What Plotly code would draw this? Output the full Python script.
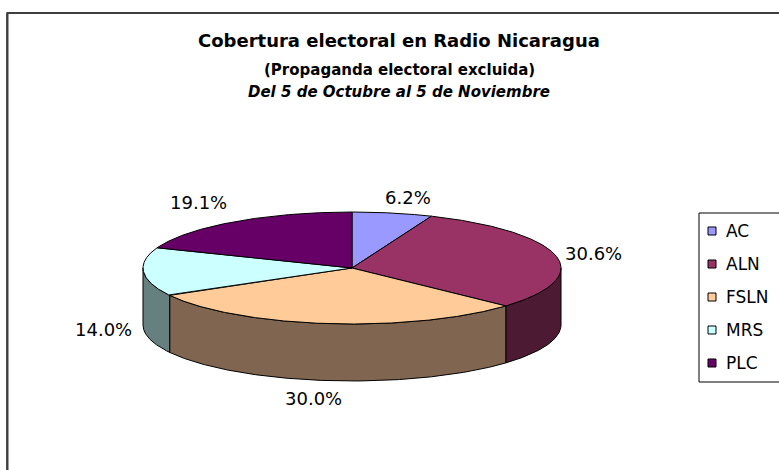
import numpy as np
import plotly.graph_objects as go

# ---------------- data ----------------
categories = ["AC", "ALN", "FSLN", "MRS", "PLC"]
shares = [6.2, 30.6, 30.0, 14.0, 19.1]
top_colors = ["#9999FF", "#993366", "#FFCC99", "#CCFFFF", "#660066"]
side_colors = ["#4D4D80", "#4D1A33", "#806650", "#668080", "#330033"]

title_lines = [
    "Cobertura electoral en Radio Nicaragua",
    "(Propaganda electoral excluida)",
    "Del 5 de Octubre al 5 de Noviembre",
]

# ---------------- layout constants (pixel space) ----------------
W, H = 779, 470
CX, CY = 352, 268        # centre of the top face
RX, RY = 209, 56         # ellipse radii of the top face
DEPTH = 57               # thickness of the 3-D pie
LABEL_K = 1.2
label_nudge = [(7, -5), (-3, 0), (-9, 7), (2, 0), (-12, -10)]
FONT = "DejaVu Sans, Liberation Sans, Arial, sans-serif"
TITLE_X = 399


def rim(theta_deg, drop=0.0):
    t = np.radians(theta_deg)
    return CX + RX * np.sin(t), CY - RY * np.cos(t) + drop


fig = go.Figure()

total = sum(shares)
bounds = [0.0]
for v in shares:
    bounds.append(bounds[-1] + v / total * 360.0)

# side faces (only the front half, 90..270 deg, is visible)
for i, v in enumerate(shares):
    a, b = max(bounds[i], 90.0), min(bounds[i + 1], 270.0)
    if b <= a:
        continue
    th = np.linspace(a, b, 200)
    xt, yt = rim(th)
    xb, yb = rim(th[::-1], DEPTH)
    xs = np.concatenate([xt, xb, xt[:1]])
    ys = np.concatenate([yt, yb, yt[:1]])
    fig.add_trace(go.Scatter(x=xs, y=ys, mode="lines", fill="toself",
                             fillcolor=side_colors[i],
                             line=dict(color="black", width=1),
                             hoverinfo="skip", showlegend=False))

# top faces
for i, v in enumerate(shares):
    th = np.linspace(bounds[i], bounds[i + 1], 300)
    xt, yt = rim(th)
    xs = np.concatenate([[CX], xt, [CX]])
    ys = np.concatenate([[CY], yt, [CY]])
    fig.add_trace(go.Scatter(x=xs, y=ys, mode="lines", fill="toself",
                             fillcolor=top_colors[i],
                             line=dict(color="black", width=1),
                             hoverinfo="skip", showlegend=False))

annotations = []
# data labels
for i, v in enumerate(shares):
    mid = (bounds[i] + bounds[i + 1]) / 2.0
    t = np.radians(mid)
    lx = CX + RX * LABEL_K * np.sin(t)
    ly = CY - RY * LABEL_K * np.cos(t) + (DEPTH if np.cos(t) < 0 else 0)
    lx += label_nudge[i][0]
    ly += label_nudge[i][1]
    annotations.append(dict(x=lx, y=ly, xref="x", yref="y", text=f"{v:.1f}%",
                            showarrow=False, xanchor="center", yanchor="middle",
                            font=dict(family=FONT, size=18, color="black")))

# titles
annotations.append(dict(x=TITLE_X, y=40, xref="x", yref="y", text=f"<b>{title_lines[0]}</b>",
                        showarrow=False, xanchor="center", yanchor="middle",
                        font=dict(family=FONT, size=18, color="black")))
annotations.append(dict(x=TITLE_X, y=70, xref="x", yref="y", text=f"<b>{title_lines[1]}</b>",
                        showarrow=False, xanchor="center", yanchor="middle",
                        font=dict(family=FONT, size=15, color="black")))
annotations.append(dict(x=TITLE_X, y=92, xref="x", yref="y", text=f"<b><i>{title_lines[2]}</i></b>",
                        showarrow=False, xanchor="center", yanchor="middle",
                        font=dict(family=FONT, size=15, color="black")))

shapes = []
# chart frame
shapes.append(dict(type="rect", xref="x", yref="y", x0=7, y0=13, x1=W + 20, y1=H + 20,
                   line=dict(color="black", width=1.3), fillcolor="rgba(0,0,0,0)", layer="below"))
shapes.append(dict(type="line", xref="x", yref="y", x0=7.5, y0=13, x1=7.5, y1=H + 20,
                   line=dict(color="#404040", width=2), layer="below"))
# legend
LEG_X, LEG_TOP, LEG_BOTTOM = 699, 213, 382
ROW0, ROW_STEP = 231, 33
shapes.append(dict(type="rect", xref="x", yref="y", x0=LEG_X, y0=LEG_TOP, x1=W + 20, y1=LEG_BOTTOM,
                   line=dict(color="black", width=1), fillcolor="white", layer="below"))
for i, name in enumerate(categories):
    ry = ROW0 + i * ROW_STEP
    shapes.append(dict(type="rect", xref="x", yref="y", x0=LEG_X + 9, x1=LEG_X + 17,
                       y0=ry - 4, y1=ry + 4, line=dict(color="black", width=1),
                       fillcolor=top_colors[i]))
    annotations.append(dict(x=LEG_X + 25, y=ry, xref="x", yref="y", text=name,
                            showarrow=False, xanchor="left", yanchor="middle",
                            font=dict(family=FONT, size=17, color="black")))

fig.update_layout(
    width=W, height=H,
    margin=dict(l=0, r=0, t=0, b=0),
    paper_bgcolor="white", plot_bgcolor="white",
    xaxis=dict(range=[0, W], visible=False, fixedrange=True),
    yaxis=dict(range=[H, 0], visible=False, fixedrange=True),
    showlegend=False,
    hovermode=False,
    annotations=annotations,
    shapes=shapes,
)

fig.write_html("out.html", config={"displayModeBar": False, "staticPlot": True},
               post_script="document.body.style.margin='0px';")
